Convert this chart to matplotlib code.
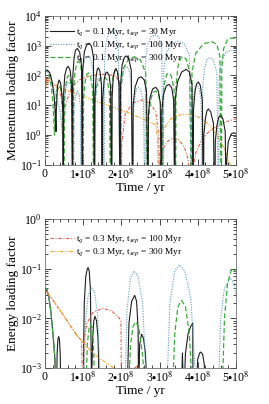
import numpy as np
import matplotlib.pyplot as plt
from matplotlib.ticker import FixedLocator, MultipleLocator, LogLocator, NullFormatter

plt.rcParams['font.family'] = ['Liberation Serif', 'DejaVu Serif']
plt.rcParams['mathtext.fontset'] = 'stix'

# time in units of 1e8 yr
# ---- top panel: momentum loading factor ----
# tq = 0.1 Myr, tsep = 30 Myr
mom_a_t = [0, 0.02, 0.07, 0.13, 0.19, 0.24, 0.27, 0.29,
           0.30, 0.33, 0.37, 0.41, 0.45, 0.47, 0.48,
           0.49, 0.52, 0.57, 0.61, 0.66, 0.70, 0.72,
           0.73, 0.76, 0.80, 0.85, 0.91, 0.96, 0.98,
           0.99, 1.03, 1.09, 1.16, 1.22, 1.27, 1.30,
           1.31, 1.34, 1.37, 1.40, 1.44, 1.48, 1.50,
           1.51, 1.55, 1.59, 1.63, 1.68, 1.72, 1.75,
           1.76, 1.79, 1.83, 1.86, 1.90, 1.94, 1.97,
           1.98, 2.02, 2.08, 2.13, 2.19, 2.26, 2.30,
           2.31, 2.36, 2.44, 2.52, 2.60, 2.66, 2.70,
           2.71, 2.75, 2.82, 2.90, 2.97, 3.02, 3.05,
           3.06, 3.10, 3.18, 3.25, 3.32, 3.37, 3.40,
           3.41, 3.47, 3.58, 3.70, 3.78, 3.85, 3.88,
           3.89, 3.93, 3.97, 4.02, 4.07, 4.12, 4.15,
           4.16, 4.20, 4.24, 4.28, 4.34, 4.41, 4.45,
           4.46, 4.50, 4.55, 4.60, 4.66, 4.72, 4.75,
           4.76, 4.80, 4.88, 4.95, 5.0]
mom_a_v = [100, 140, 150, 120, 60, 20, 6, 1.3,
           8, 45, 70, 55, 20, 5, 0.001,
           25, 100, 180, 200, 150, 50, 0.001,
           90, 350, 700, 800, 600, 200, 0.001,
           150, 600, 1050, 1200, 950, 400, 0.001,
           20, 90, 160, 180, 140, 50, 0.001,
           15, 70, 120, 130, 100, 40, 0.001,
           20, 90, 150, 170, 130, 50, 0.001,
           50, 220, 400, 450, 380, 150, 0.001,
           10, 40, 80, 90, 70, 30, 0.001,
           5, 18, 35, 40, 30, 12, 0.001,
           6, 22, 45, 50, 38, 15, 0.001,
           15, 60, 130, 160, 130, 50, 0.001,
           7, 30, 52, 60, 45, 15, 0.001,
           1, 3.5, 6.5, 7.5, 6, 2.5, 0.001,
           0.6, 2, 4, 4.5, 3.5, 1.3, 0.001,
           0.15, 0.6, 1.1, 1.2, 1.1]

# tq = 0.1 Myr, tsep = 100 Myr
mom_b_t = [0, 0.02, 0.05, 0.12, 0.2, 0.3, 0.4, 0.46, 0.48,
           0.49, 0.53, 0.58, 0.62, 0.67, 0.72, 0.75,
           0.76, 0.80, 0.85, 0.90, 0.93, 0.95,
           0.96, 1.00, 1.06, 1.12, 1.19, 1.26, 1.30,
           1.31, 1.35, 1.39, 1.42, 1.47, 1.52, 1.55,
           1.56, 1.60, 1.67, 1.75, 1.83, 1.92, 1.97,
           1.98, 2.02, 2.08, 2.13, 2.19, 2.26, 2.30,
           2.31, 2.35, 2.40, 2.45, 2.51, 2.58, 2.62,
           2.63, 2.68, 2.78, 2.88, 2.98, 3.06, 3.10,
           3.11, 3.18, 3.32, 3.48, 3.64, 3.78, 3.85,
           3.86, 3.90, 3.94, 3.98, 4.03, 4.09, 4.12,
           4.13, 4.18, 4.25, 4.32, 4.40, 4.50, 4.55,
           4.56, 4.62, 4.75, 4.90, 5.0]
mom_b_v = [120, 140, 145, 100, 50, 20, 6, 1, 0.001,
           8, 30, 55, 60, 45, 15, 0.001,
           5, 20, 30, 22, 8, 0.001,
           50, 200, 400, 450, 380, 150, 0.001,
           10, 40, 75, 80, 60, 20, 0.001,
           300, 1300, 2600, 3000, 2600, 1000, 0.001,
           20, 90, 180, 200, 170, 70, 0.001,
           4, 18, 36, 40, 32, 12, 0.001,
           230, 1000, 2000, 2300, 2000, 800, 0.001,
           140, 600, 1200, 1400, 1200, 500, 0.001,
           5, 22, 45, 50, 40, 15, 0.001,
           40, 170, 350, 400, 340, 130, 0.001,
           70, 300, 620, 700, 650]

# tq = 0.1 Myr, tsep = 300 Myr
mom_c_t = [0, 0.02, 0.05, 0.10, 0.16, 0.21, 0.25,
           0.27, 0.31, 0.35, 0.39, 0.43, 0.47, 0.50,
           0.51, 0.55, 0.59, 0.62, 0.66, 0.71, 0.74,
           0.75, 0.79, 0.84, 0.88, 0.93, 0.98, 1.00,
           1.01, 1.05, 1.10, 1.14, 1.19, 1.25, 1.28,
           1.29, 1.35, 1.45, 1.55, 1.63, 1.69, 1.72,
           1.73, 1.77, 1.82, 1.86, 1.91, 1.96, 1.98,
           1.99, 2.06, 2.20, 2.35, 2.50, 2.64, 2.70,
           2.71, 2.76, 2.83, 2.90, 2.97, 3.04, 3.08,
           3.09, 3.13, 3.19, 3.25, 3.31, 3.38, 3.42,
           3.43, 3.48, 3.55, 3.62, 3.70, 3.79, 3.84,
           3.85, 3.95, 4.15, 4.37, 4.50, 4.58, 4.62,
           4.63, 4.68, 4.78, 4.90, 5.0]
mom_c_v = [130, 150, 150, 110, 50, 12, 1,
           8, 30, 45, 45, 30, 8, 0.001,
           12, 50, 90, 100, 75, 25, 0.001,
           35, 140, 270, 300, 240, 80, 0.001,
           15, 60, 110, 120, 95, 35, 0.001,
           10, 40, 80, 90, 70, 25, 0.001,
           15, 70, 135, 150, 115, 40, 0.001,
           40, 180, 370, 420, 330, 120, 0.001,
           3, 14, 27, 30, 24, 9, 0.001,
           12, 55, 110, 120, 95, 35, 0.001,
           40, 190, 380, 420, 350, 130, 0.001,
           130, 550, 1150, 1350, 1100, 450, 0.001,
           180, 800, 1600, 1800, 1650]

# tq = 0.3 Myr, tsep = 100 Myr
mom_d_t = [0, 0.01, 0.04, 0.1, 0.2, 0.3, 0.4, 0.45, 0.48,
           0.49, 0.55, 0.7, 0.9, 1.2, 1.6, 1.85, 1.95, 1.99, 2.0,
           2.01, 2.1, 2.3, 2.55, 2.75, 2.9, 2.98, 3.0,
           3.02, 3.1, 3.2, 3.35, 3.5, 3.65, 3.75, 3.8,
           3.85, 3.95, 4.1, 4.3, 4.5, 4.75, 5.0]
mom_d_v = [0.5, 30, 75, 65, 52, 42, 30, 10, 0.001,
           2, 12, 40, 70, 100, 110, 95, 60, 10, 0.001,
           0.5, 5, 12, 15, 12, 6, 1, 0.001,
           0.05, 0.35, 0.6, 0.8, 0.7, 0.4, 0.15, 0.001,
           0.05, 0.25, 0.7, 1.3, 2, 2.8, 3.5]

# tq = 0.3 Myr, tsep = 300 Myr
mom_e_t = [0, 0.01, 0.04, 0.2, 0.4, 0.7, 1.0, 1.4, 1.8, 2.2, 2.6, 2.9, 2.95, 2.98,
           3.0, 3.1, 3.3, 3.5, 3.7, 3.9, 4.1, 4.3, 4.5, 4.7, 4.85, 4.9]
mom_e_v = [0.5, 30, 80, 55, 38, 27, 20, 13, 8.5, 5.5, 3.3, 2.2, 0.8, 0.001,
           0.2, 1.5, 3.5, 4.6, 5, 4.6, 3.6, 2.2, 1.0, 0.35, 0.1, 0.001]

# ---- bottom panel: energy loading factor ----
en_a_t = [0, 0.01, 0.04, 0.1, 0.16, 0.22, 0.26, 0.28,
          0.30, 0.32, 0.34, 0.36, 0.38, 0.40, 0.42,
          1.00, 1.03, 1.07, 1.11, 1.13, 1.16, 1.19, 1.22,
          1.25, 1.28, 1.31, 1.35, 1.39, 1.42,
          2.16, 2.20, 2.27, 2.35, 2.40, 2.44, 2.45,
          2.46, 2.48, 2.53, 2.58, 2.63, 2.67,
          3.58, 3.60, 3.62,
          3.65, 3.68, 3.75, 3.82, 3.87, 3.875,
          3.97, 4.0, 4.05, 4.08, 4.13, 4.17, 4.2]
en_a_v = [0.0005, 0.035, 0.04, 0.028, 0.013, 0.004, 0.0015, 0.0005,
          0.0002, 0.002, 0.0038, 0.0043, 0.0038, 0.002, 0.0002,
          0.0005, 0.02, 0.07, 0.1, 0.105, 0.09, 0.04, 0.0005,
          0.004, 0.009, 0.011, 0.009, 0.004, 0.0005,
          0.0005, 0.008, 0.022, 0.029, 0.022, 0.006, 0.0005,
          0.0005, 0.003, 0.0048, 0.004, 0.002, 0.0005,
          0.0005, 0.002, 0.0005,
          0.0005, 0.002, 0.005, 0.007, 0.008, 0.0005,
          0.0005, 0.0015, 0.002, 0.0021, 0.0019, 0.0012, 0.0005]

en_b_t = [0, 0.01, 0.04, 0.1, 0.16, 0.22, 0.27, 0.30,
          1.02, 1.06, 1.13, 1.22, 1.30, 1.38, 1.45,
          2.10, 2.15, 2.24, 2.33, 2.44, 2.56, 2.65,
          3.20, 3.27, 3.40, 3.52, 3.66, 3.82, 3.95,
          4.55, 4.6, 4.7, 4.85, 4.95, 5.0]
en_b_v = [0.0005, 0.035, 0.04, 0.027, 0.012, 0.004, 0.0013, 0.0005,
          0.0005, 0.008, 0.028, 0.042, 0.033, 0.012, 0.0005,
          0.0005, 0.015, 0.065, 0.09, 0.07, 0.02, 0.0005,
          0.0005, 0.02, 0.09, 0.12, 0.09, 0.025, 0.0005,
          0.0005, 0.01, 0.04, 0.065, 0.05, 0.03]

en_c_t = [0, 0.01, 0.04, 0.1, 0.16, 0.22, 0.27, 0.31,
          1.08, 1.11, 1.16, 1.20, 1.24, 1.27, 1.30,
          2.2, 2.24, 2.31, 2.38, 2.46, 2.55, 2.62,
          3.35, 3.40, 3.48, 3.58, 3.68, 3.78, 3.85,
          4.65, 4.70, 4.78, 4.87, 4.93, 5.0]
en_c_v = [0.0005, 0.037, 0.04, 0.028, 0.013, 0.004, 0.0014, 0.0005,
          0.0005, 0.003, 0.0068, 0.0075, 0.0065, 0.003, 0.0005,
          0.0005, 0.003, 0.007, 0.0085, 0.0065, 0.002, 0.0005,
          0.0005, 0.005, 0.017, 0.023, 0.017, 0.005, 0.0005,
          0.0005, 0.01, 0.05, 0.09, 0.1, 0.085]

en_d_t = [0, 0.01, 0.04, 0.1, 0.25, 0.5, 0.84, 0.96, 0.98,
          1.0, 1.03, 1.1, 1.25, 1.5, 1.75, 1.95, 1.99, 2.0,
          2.3, 2.35, 2.42, 2.5, 2.55]
en_d_v = [0.0005, 0.03, 0.034, 0.03, 0.021, 0.011, 0.0045, 0.0036, 0.0005,
          0.0005, 0.004, 0.008, 0.013, 0.016, 0.014, 0.01, 0.009, 0.0005,
          0.0005, 0.001, 0.0011, 0.001, 0.0005]

en_e_t = [0, 0.01, 0.03, 0.1, 0.25, 0.5, 0.84, 1.28, 1.8, 1.9]
en_e_v = [0.0005, 0.03, 0.035, 0.03, 0.021, 0.011, 0.0045, 0.0019, 0.001, 0.0008]

labels_top = [r't$_q$ = 0.1 Myr, t$_{sep}$ = 30 Myr',
              r't$_q$ = 0.1 Myr, t$_{sep}$ = 100 Myr',
              r't$_q$ = 0.1 Myr, t$_{sep}$ = 300 Myr']
labels_bot = [r't$_q$ = 0.3 Myr, t$_{sep}$ = 100 Myr',
              r't$_q$ = 0.3 Myr, t$_{sep}$ = 300 Myr']
xticks = [0, 1, 2, 3, 4, 5]
xticklabels = ['0'] + [r'%d$\bullet$10$^8$' % i for i in xticks[1:]]

c_a, c_b, c_c, c_d, c_e = '#1e1e1e', '#5a9ab8', '#3aaa3a', '#e2604c', '#f2a328'
sty_a = dict(color=c_a, lw=0.8, ls='-')
sty_b = dict(color=c_b, lw=0.8, ls=(0, (1, 1.3)))
sty_c = dict(color=c_c, lw=0.9, ls=(0, (4, 2)))
sty_d = dict(color=c_d, lw=0.8, ls=(0, (3, 1.5, 1, 1.5)))
sty_e = dict(color=c_e, lw=0.8, ls=(0, (3, 1.2, 1, 1.2, 1, 1.2)))


def style_axes(ax):
    ax.set_yscale('log')
    ax.set_xlim(0, 5e8)
    ax.xaxis.set_major_locator(FixedLocator([x * 1e8 for x in xticks]))
    ax.xaxis.set_minor_locator(MultipleLocator(0.2e8))
    ax.set_xticklabels(xticklabels)
    ax.yaxis.set_minor_locator(LogLocator(base=10, subs=np.arange(2, 10)))
    ax.yaxis.set_minor_formatter(NullFormatter())
    ax.tick_params(which='both', direction='in', top=True, right=True,
                   labelsize=8.5, pad=2)
    ax.tick_params(which='major', length=4, width=0.5)
    ax.tick_params(which='minor', length=2, width=0.5)
    for s in ax.spines.values():
        s.set_linewidth(0.5)
        s.set_color('#555555')
    ax.set_xlabel('Time / yr', fontsize=9.5, labelpad=0)


def tx(t):
    return np.array(t) * 1e8


fig = plt.figure(figsize=(2.69, 4.04), dpi=100)
ax1 = fig.add_axes([0.167, 0.592, 0.710, 0.369])
ax2 = fig.add_axes([0.167, 0.089, 0.710, 0.369])

ax1.plot(tx(mom_e_t), mom_e_v, **sty_e)
ax1.plot(tx(mom_d_t), mom_d_v, **sty_d)
l3, = ax1.plot(tx(mom_c_t), mom_c_v, **sty_c)
l2, = ax1.plot(tx(mom_b_t), mom_b_v, **sty_b)
l1, = ax1.plot(tx(mom_a_t), mom_a_v, **sty_a)
ax1.set_ylim(0.1, 1e4)
ax1.set_yticks([0.1, 1, 10, 100, 1000, 1e4])
ax1.set_yticklabels(['0.1', '1', '10', r'10$^2$', r'10$^3$', r'10$^4$'])
style_axes(ax1)
ax1.set_ylabel('Momentum loading factor', fontsize=9.5, labelpad=1)
ax1.legend([l1, l2, l3], labels_top, loc='upper left', frameon=False,
           fontsize=6.7, handlelength=2.6, handletextpad=0.2,
           borderaxespad=0.2, labelspacing=0.12, borderpad=0.3,
           bbox_to_anchor=(0, 0.96))

ax2.plot(tx(en_a_t), en_a_v, **sty_a)
ax2.plot(tx(en_b_t), en_b_v, **sty_b)
ax2.plot(tx(en_c_t), en_c_v, **sty_c)
l4, = ax2.plot(tx(en_d_t), en_d_v, **sty_d)
l5, = ax2.plot(tx(en_e_t), en_e_v, **sty_e)
ax2.set_ylim(1e-3, 1)
ax2.set_yticks([1e-3, 1e-2, 0.1, 1])
ax2.set_yticklabels([r'10$^{-3}$', r'10$^{-2}$', '0.1', '1'])
style_axes(ax2)
ax2.set_ylabel('Energy loading factor', fontsize=9.5, labelpad=1)
ax2.legend([l4, l5], labels_bot, loc='upper left', frameon=False,
           fontsize=6.7, handlelength=2.6, handletextpad=0.2,
           borderaxespad=0.2, labelspacing=0.12, borderpad=0.3,
           bbox_to_anchor=(0, 0.935))

fig.savefig('out.png', dpi=100)
